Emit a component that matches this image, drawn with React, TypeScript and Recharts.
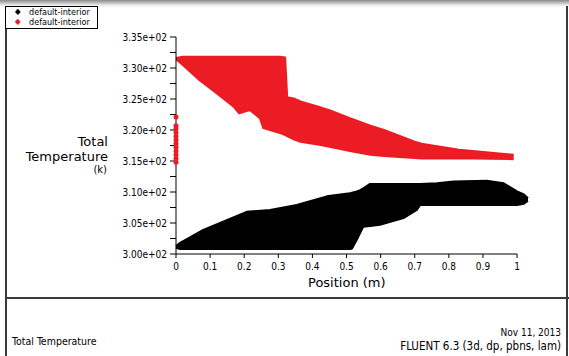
import React from 'react';
import { ComposedChart, Area, Line, XAxis, YAxis, ReferenceLine } from 'recharts';

const FONT = '"DejaVu Sans Condensed", "DejaVu Sans", sans-serif';
const RED = '#ec1c24';
const BLACK = '#000000';

// hot side (red): position along the exchanger, upper and lower edge of the point cloud (K)
const redPos = [0, 0.02, 0.07, 0.12, 0.17, 0.185, 0.217, 0.246, 0.256, 0.305, 0.32, 0.326, 0.345, 0.365, 0.42, 0.45, 0.51, 0.57, 0.61, 0.7, 0.72, 0.83, 0.87, 0.99];
const redHigh = [331.6, 331.8, 331.8, 331.8, 331.8, 331.8, 331.8, 331.8, 331.8, 331.8, 331.7, 325.3, 325.1, 324.6, 323.7, 323.2, 321.9, 320.7, 320.0, 318.1, 317.8, 316.8, 316.6, 316.0];
const redLow = [331.4, 330.5, 328.0, 325.9, 323.7, 322.7, 323.2, 321.9, 320.3, 319.5, 319.2, 319.0, 318.5, 318.1, 317.6, 317.3, 316.6, 316.0, 315.8, 315.5, 315.4, 315.4, 315.4, 315.3];

// cold side (black)
const blackPos = [0, 0.012, 0.08, 0.207, 0.276, 0.354, 0.442, 0.51, 0.516, 0.53, 0.54, 0.549, 0.569, 0.598, 0.667, 0.706, 0.716, 0.765, 0.814, 0.911, 0.961, 1.0, 1.02, 1.032];
const blackHigh = [301.3, 301.8, 303.9, 306.8, 307.1, 307.9, 309.3, 309.8, 309.9, 310.1, 310.3, 310.6, 311.3, 311.3, 311.3, 311.3, 311.3, 311.4, 311.7, 311.8, 311.4, 310.1, 309.6, 309.0];
const blackLow = [301.0, 300.8, 300.8, 300.8, 300.8, 300.8, 300.8, 300.8, 300.9, 302.3, 303.4, 304.4, 304.5, 304.7, 305.8, 307.1, 307.9, 307.9, 307.9, 307.9, 307.9, 307.9, 308.1, 308.6];

// red points sitting on x = 0
const inletTemp = [322.1, 320.7, 320.2, 319.6, 319.0, 318.4, 317.8, 317.2, 316.6, 316.0, 315.4, 314.8];

const xTicks = [0, 0.1, 0.2, 0.3, 0.4, 0.5, 0.6, 0.7, 0.8, 0.9, 1];
const yMajor = [300, 305, 310, 315, 320, 325, 330, 335];
const yMinor = [302.5, 307.5, 312.5, 317.5, 322.5, 327.5, 332.5];
const legendNames = ['default-interior', 'default-interior'];

const redData = redPos.map((x, i) => ({ x, band: [redLow[i], redHigh[i]] }));
const blackData = blackPos.map((x, i) => ({ x, band: [blackLow[i], blackHigh[i]] }));
const inletData = inletTemp.map(y => ({ x: 0, y }));
const yTicks = [...yMajor, ...yMinor].sort((a, b) => a - b);

const fmtY = (v: number) => (yMajor.includes(v) ? `${(v / 100).toFixed(2)}e+02` : '');

const txt = (extra: React.CSSProperties): React.CSSProperties => ({
  position: 'absolute',
  fontFamily: FONT,
  color: '#000',
  lineHeight: 1,
  whiteSpace: 'nowrap',
  ...extra,
});

export default function App() {
  return (
    <div style={{ position: 'absolute', left: 0, top: 0, width: 569, height: 356, background: '#fff', overflow: 'hidden' }}>
      <div style={{ position: 'absolute', left: 0, top: 0, width: 569, height: 7, background: 'linear-gradient(to bottom, #8a8a8a, #e6e6e6 70%, #fff)' }} />
      <div style={{ position: 'absolute', left: 5, top: 6, width: 2, height: 350, background: '#3a3a3a' }} />
      <div style={{ position: 'absolute', left: 566, top: 6, width: 2, height: 350, background: '#3a3a3a' }} />
      <div style={{ position: 'absolute', left: 5, top: 297, width: 564, height: 2, background: '#3a3a3a' }} />

      <ComposedChart width={569} height={356} margin={{ top: 37, right: 40, bottom: 0, left: 0 }} style={{ position: 'absolute', left: 0, top: 0 }}>
        <XAxis
          type="number"
          dataKey="x"
          domain={[0, 1.035]}
          ticks={xTicks}
          interval={0}
          tickFormatter={v => String(v)}
          axisLine={false}
          tickLine={{ stroke: BLACK }}
          tickSize={4}
          tickMargin={5}
          height={102}
          tick={{ fontSize: 10, fill: BLACK, fontFamily: FONT }}
        />
        <YAxis
          type="number"
          domain={[300, 335]}
          ticks={yTicks}
          interval={0}
          tickFormatter={fmtY}
          width={176}
          tickSize={6}
          tickMargin={3}
          axisLine={{ stroke: BLACK }}
          tickLine={{ stroke: BLACK }}
          tick={{ fontSize: 10, fill: BLACK, fontFamily: FONT }}
        />
        <Area data={redData} dataKey="band" type="linear" fill={RED} fillOpacity={1} stroke={RED} strokeWidth={2} strokeLinejoin="round" isAnimationActive={false} />
        <Area data={blackData} dataKey="band" type="linear" fill={BLACK} fillOpacity={1} stroke={BLACK} strokeWidth={2} strokeLinejoin="round" isAnimationActive={false} />
        <Line data={inletData} dataKey="y" stroke="none" dot={{ r: 2.5, fill: RED, stroke: RED, strokeWidth: 0 }} isAnimationActive={false} />
        <ReferenceLine segment={[{ x: 0, y: 300 }, { x: 1, y: 300 }]} stroke={BLACK} />
      </ComposedChart>

      {/* legend */}
      <div style={{ position: 'absolute', left: 5, top: 6, width: 91, height: 21, border: '1px solid #000', overflow: 'hidden', background: '#fff' }}>
        {legendNames.map((name, i) => (
          <div key={i} style={txt({ left: 0, top: 1 + i * 10, height: 9, width: 91 })}>
            <span style={{ position: 'absolute', left: 9, top: 0, fontSize: 8, color: i === 0 ? BLACK : RED }}>◆</span>
            <span style={{ position: 'absolute', left: 23, top: 0, fontSize: 9 }}>{name}</span>
          </div>
        ))}
      </div>

      {/* y axis title */}
      <div style={txt({ left: 0, width: 108, textAlign: 'right', top: 135, fontSize: 13, fontFamily: '"DejaVu Sans", sans-serif' })}>Total</div>
      <div style={txt({ left: 0, width: 108, textAlign: 'right', top: 150, fontSize: 13, fontFamily: '"DejaVu Sans", sans-serif' })}>Temperature</div>
      <div style={txt({ left: 0, width: 107, textAlign: 'right', top: 165, fontSize: 10, fontFamily: '"DejaVu Sans", sans-serif' })}>(k)</div>

      {/* x axis title */}
      <div style={txt({ left: 308, top: 276, fontSize: 13, fontFamily: '"DejaVu Sans", sans-serif' })}>Position (m)</div>

      {/* footer */}
      <div style={txt({ left: 12, top: 336, fontSize: 10.5 })}>Total Temperature</div>
      <div style={txt({ right: 8, top: 328, fontSize: 10, textAlign: 'right' })}>Nov 11, 2013</div>
      <div style={txt({ right: 8, top: 341, fontSize: 11.5, textAlign: 'right' })}>FLUENT 6.3 (3d, dp, pbns, lam)</div>
    </div>
  );
}
